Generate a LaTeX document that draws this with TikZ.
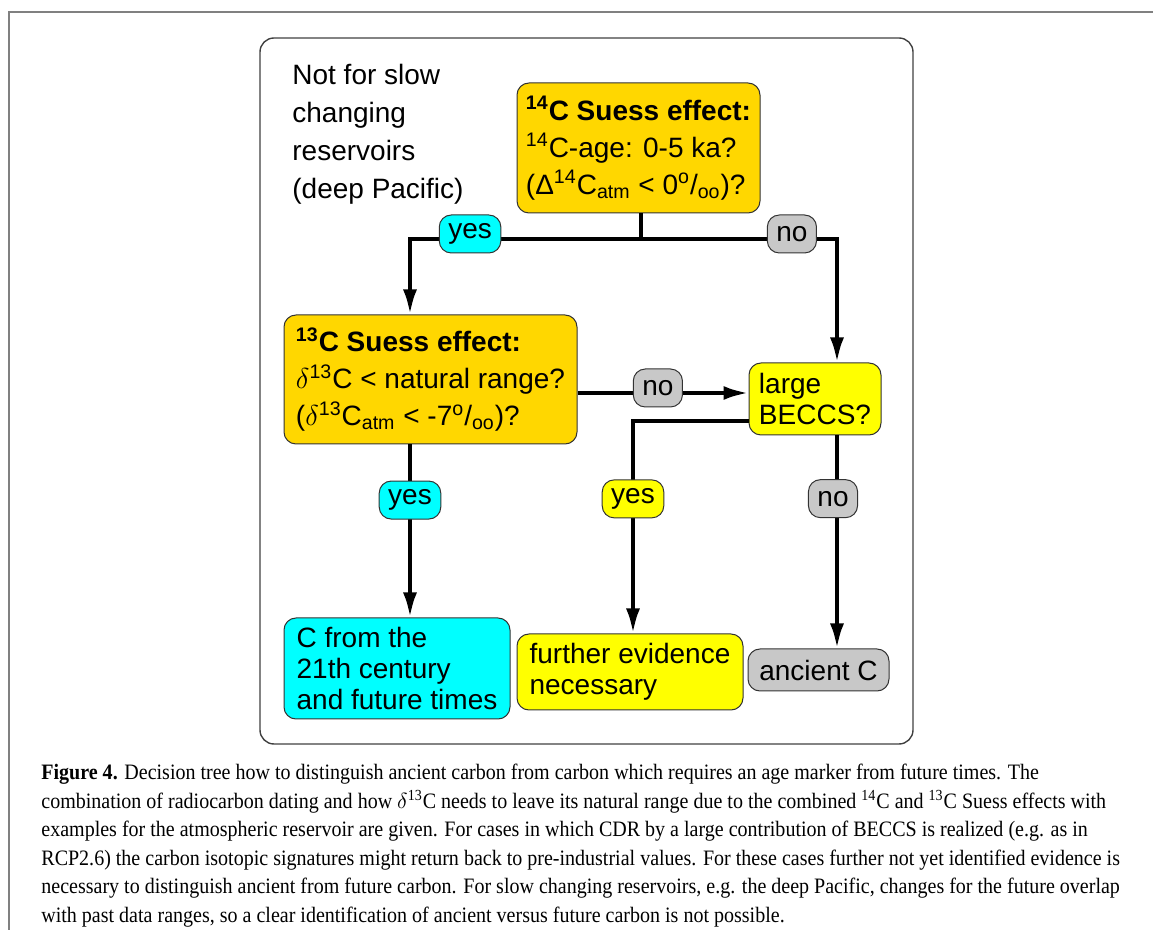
\documentclass[tikz,border=0pt]{standalone}
\usepackage{fontspec}
\setmainfont{Liberation Sans}
\newfontfamily\capfont[FakeStretch=0.91]{Liberation Serif}
\usetikzlibrary{arrows.meta}
\definecolor{suessorange}{RGB}{255,215,0}
\definecolor{becyellow}{RGB}{255,255,0}
\definecolor{futcyan}{RGB}{0,255,255}
\definecolor{ancgray}{RGB}{200,200,200}
\colorlet{framegray}{black!50}
\tikzset{>={Latex[length=12.5pt,width=7pt]}}

\begin{document}
\begin{tikzpicture}[x=0.5pt, y=-0.5pt,
                box/.style={draw=black!80, line width=0.5pt, rounded corners=6pt,
                  align=left, inner xsep=3pt, inner ysep=2pt,
                  font=\fontsize{14}{15.5}\selectfont},
                qbox/.style={box, fill=suessorange, font=\fontsize{14}{18.5}\selectfont},
                lbl/.style={draw=black!80, line width=0.5pt, rounded corners=6pt,
                  inner xsep=4.5pt, inner ysep=0pt, minimum height=19pt,
                  yshift=2.5pt, font=\fontsize{14}{15}\selectfont},
                flow/.style={black, line width=2pt}]
                \useasboundingbox (0,0) rectangle (1153,930);

                % page frame and figure panel
                \draw[framegray, line width=1pt] (1153,12) -- (9,12) -- (9,930);
                \draw[black!75, line width=0.7pt, rounded corners=7pt] (260,38) rectangle (913,744);

                \node[anchor=north west, inner sep=0pt, align=left,
                      font=\fontsize{14}{19}\selectfont] (note) at (292,64)
                     {Not for slow\\changing\\reservoirs\\(deep Pacific)};

                % question boxes
                \node[qbox, minimum width=121.5pt, minimum height=65pt] (q14) at (638.5,148)
                     {\textbf{\textsuperscript{14}C Suess effect:}\\
                      \textsuperscript{14}C-age: 0-5 ka?\\
                      (Δ\textsuperscript{14}C\textsubscript{atm} < 0\textsuperscript{o}/\textsubscript{oo})?};
                \node[qbox, minimum width=146.5pt, minimum height=64.5pt] (q13) at (430.5,379.5)
                     {\textbf{\textsuperscript{13}C Suess effect:}\\
                      $\delta$\textsuperscript{13}C < natural range?\\
                      ($\delta$\textsuperscript{13}C\textsubscript{atm} < -7\textsuperscript{o}/\textsubscript{oo})?};
                \node[box, fill=becyellow, minimum width=66pt, minimum height=36pt] (beccs) at (815,399)
                     {large\\BECCS?};

                % end boxes
                \node[box, fill=futcyan, minimum width=113pt, minimum height=50.5pt] (future) at (397,668.5)
                     {C from the\\21th century\\and future times};
                \node[box, fill=becyellow, minimum width=113pt, minimum height=38pt] (further) at (630,672)
                     {further evidence\\necessary};
                \node[box, fill=ancgray, minimum width=70.5pt, minimum height=21pt] (ancient) at (818.5,670)
                     {ancient C};

                % branch points
                \coordinate (split) at (641,239);
                \coordinate (lcol) at (410,239);
                \coordinate (rcol) at (837,239);
                \coordinate (row) at (700,393);
                \coordinate (bend) at (633,421);

                \draw[flow] (q14.south -| split) -- (split);
                \draw[flow,->] (split) -- node[lbl, fill=futcyan, pos=0.74] {yes} (lcol) -- (lcol |- q13.north);
                \draw[flow,->] (split) -- node[lbl, fill=ancgray, pos=0.77] {no} (rcol) -- (rcol |- beccs.north);
                \draw[flow,->] (q13.east |- row) -- node[lbl, fill=ancgray, pos=0.47] {no} (beccs.west |- row);
                \draw[flow,->] (q13.south -| lcol) -- node[lbl, fill=futcyan, pos=0.35] {yes} (future.north -| lcol);
                \draw[flow,->] (beccs.west |- bend) -- (bend) -- node[lbl, fill=becyellow, pos=0.39] {yes} (bend |- further.north);
                \draw[flow,->] (beccs.south -| rcol) -- node[lbl, fill=ancgray, pos=0.32, xshift=-2pt] {no} (ancient.north -| rcol);

                % caption
                \node[anchor=north west, inner sep=0pt, align=left,
                      font=\capfont\fontsize{11}{14.25}\selectfont] (caption) at (41,764)
                     {\textbf{Figure 4.} Decision tree how to distinguish ancient carbon from carbon which requires an age marker from future times. The\\
                      combination of radiocarbon dating and how $\delta$\textsuperscript{13}C needs to leave its natural range due to the combined \textsuperscript{14}C and \textsuperscript{13}C Suess effects with\\
                      examples for the atmospheric reservoir are given. For cases in which CDR by a large contribution of BECCS is realized (e.g. as in\\
                      RCP2.6) the carbon isotopic signatures might return back to pre-industrial values. For these cases further not yet identified evidence is\\
                      necessary to distinguish ancient from future carbon. For slow changing reservoirs, e.g. the deep Pacific, changes for the future overlap\\
                      with past data ranges, so a clear identification of ancient versus future carbon is not possible.};

            \end{tikzpicture}
\end{document}
